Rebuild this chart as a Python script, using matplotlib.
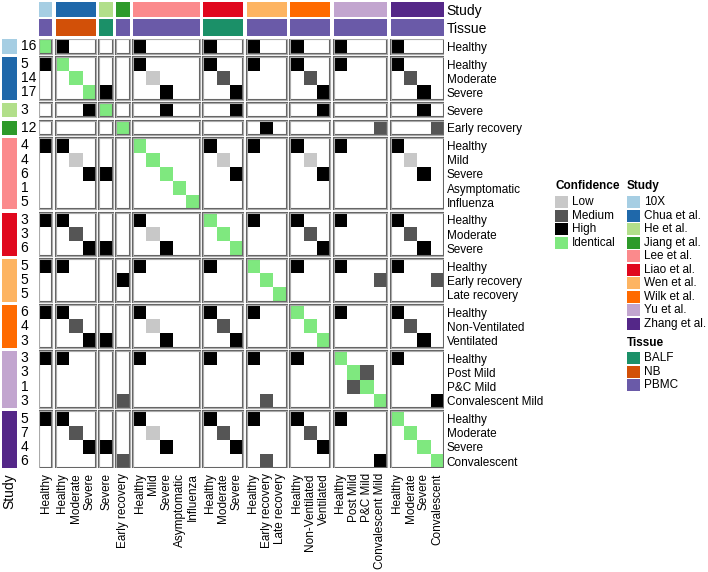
import numpy as np
import matplotlib
matplotlib.use("Agg")
import matplotlib.pyplot as plt
from matplotlib.patches import Rectangle
from matplotlib.colors import ListedColormap, BoundaryNorm
from matplotlib import transforms

plt.rcParams['font.family'] = ['Liberation Sans', 'DejaVu Sans']

# ---------------- data ----------------
studies = ["10X", "Chua et al.", "He et al.", "Jiang et al.", "Lee et al.",
           "Liao et al.", "Wen et al.", "Wilk et al.", "Yu et al.", "Zhang et al."]
study_colors = ["#a6cee3", "#1f68aa", "#b2df8a", "#2e9a2a", "#fb8a8c",
                "#e0081e", "#fdb462", "#ff6a00", "#c2a5cf", "#542788"]
study_tissue = ["PBMC", "NB", "BALF", "PBMC", "PBMC", "BALF", "PBMC", "PBMC", "PBMC", "PBMC"]
tissue_names = ["BALF", "NB", "PBMC"]
tissue_colors = ["#1b9068", "#d25008", "#6a5aa8"]

conditions = [
    ["Healthy"],
    ["Healthy", "Moderate", "Severe"],
    ["Severe"],
    ["Early recovery"],
    ["Healthy", "Mild", "Severe", "Asymptomatic", "Influenza"],
    ["Healthy", "Moderate", "Severe"],
    ["Healthy", "Early recovery", "Late recovery"],
    ["Healthy", "Non-Ventilated", "Ventilated"],
    ["Healthy", "Post Mild", "P&C Mild", "Convalescent Mild"],
    ["Healthy", "Moderate", "Severe", "Convalescent"],
]
sample_counts = [[16], [5, 14, 17], [3], [12], [4, 4, 6, 1, 5], [3, 3, 6],
                 [5, 5, 5], [6, 4, 3], [3, 3, 1, 3], [5, 7, 4, 6]]

confidence_levels = ["Low", "Medium", "High", "Identical"]
confidence_colors = ["#c8c8c8", "#555555", "#000000", "#7fe87f"]

# match matrix: '.' none, L low, M medium, H high, I identical (groups separated by spaces)
match_rows = [
    "I H.. . . H.... H.. H.. H.. H... H...",
    "H I.. . . H.... H.. H.. H.. H... H...",
    ". .I. . . .L... .M. ... .M. .... .M..",
    ". ..I H . ..H.. ..H ... ..H .... ..H.",
    ". ..H I . ..H.. ..H ... ..H .... ..H.",
    ". ... . I ..... ... .H. ... ...M ...M",
    "H H.. . . I.... H.. H.. H.. H... H...",
    ". .L. . . .I... .L. ... .L. .... .L..",
    ". ..H H . ..I.. ..H ... ..H .... ..H.",
    ". ... . . ...I. ... ... ... .... ....",
    ". ... . . ....I ... ... ... .... ....",
    "H H.. . . H.... I.. H.. H.. H... H...",
    ". .M. . . .L... .I. ... .M. .... .M..",
    ". ..H H . ..H.. ..I ... ..H .... ..H.",
    "H H.. . . H.... H.. I.. H.. H... H...",
    ". ... . H ..... ... .I. ... ...M ...M",
    ". ... . . ..... ... ..I ... .... ....",
    "H H.. . . H.... H.. H.. I.. H... H...",
    ". .M. . . .L... .M. ... .I. .... .M..",
    ". ..H H . ..H.. ..H ... ..I .... ..H.",
    "H H.. . . H.... H.. H.. H.. I... H...",
    ". ... . . ..... ... ... ... .IM. ....",
    ". ... . . ..... ... ... ... .MI. ....",
    ". ... . M ..... ... .M. ... ...I ...H",
    "H H.. . . H.... H.. H.. H.. H... I...",
    ". .M. . . .L... .M. ... .M. .... .I..",
    ". ..H H . ..H.. ..H ... ..H .... ..I.",
    ". ... . M ..... ... .M. ... ...H ...I",
]

# ---------------- build ----------------
code = {'.': 0, 'L': 1, 'M': 2, 'H': 3, 'I': 4}
M = np.array([[code[c] for c in r.replace(" ", "")] for r in match_rows])
sizes = [len(c) for c in conditions]
ng = len(sizes)
grp = np.repeat(np.arange(ng), sizes)
n = grp.size
GX, GY = 0.26, 0.24
xs = np.arange(n) + grp * GX
ys = np.arange(n) + grp * GY
starts = np.cumsum([0] + sizes[:-1])
flat_cond = [c for cs in conditions for c in cs]
flat_counts = [c for cs in sample_counts for c in cs]

W, H = 708, 572
fig = plt.figure(figsize=(W / 100, H / 100), dpi=100)

L, R, T, B = 39, 444, 39.3, 468.3
ax = fig.add_axes([L / W, 1 - B / H, (R - L) / W, (B - T) / H])
XMAX = n + (ng - 1) * GX
YMAX = n + (ng - 1) * GY
ax.set_xlim(0, XMAX)
ax.set_ylim(YMAX, 0)
for s in ax.spines.values():
    s.set_visible(False)

cmap = ListedColormap(["white"] + confidence_colors)
norm = BoundaryNorm(np.arange(-0.5, 5.5, 1), cmap.N)

for gi in range(ng):
    r0, r1 = starts[gi], starts[gi] + sizes[gi]
    for gj in range(ng):
        c0, c1 = starts[gj], starts[gj] + sizes[gj]
        xe = xs[c0] + np.arange(c1 - c0 + 1)
        ye = ys[r0] + np.arange(r1 - r0 + 1)
        ax.pcolormesh(xe, ye, M[r0:r1, c0:c1], cmap=cmap, norm=norm)
        ax.add_patch(Rectangle((xs[c0], ys[r0]), c1 - c0, r1 - r0, fill=False,
                               ec="#666666", lw=1.5, zorder=3))
        ax.add_patch(Rectangle((xs[c0], ys[r0]), c1 - c0, r1 - r0, fill=False,
                               ec="#d4d4d4", lw=0.45, zorder=4))

ax.set_xticks(xs + 0.5)
ax.set_xticklabels(flat_cond, rotation=90, fontsize=8.5)
ax.tick_params(axis='x', length=0, pad=3.5)
ax.yaxis.tick_right()
ax.set_yticks(ys + 0.5)
ax.set_yticklabels(flat_cond, fontsize=8.5)
ax.tick_params(axis='y', length=0, pad=2)

num_tr = transforms.offset_copy(ax.transData, fig=fig, x=-18.5, y=0, units='dots')
for k in range(n):
    ax.text(0, ys[k] + 0.5, str(flat_counts[k]), transform=num_tr, ha='left',
            va='center', fontsize=10, clip_on=False)

# top annotations
def top_axes(y0, y1):
    a = fig.add_axes([L / W, 1 - y1 / H, (R - L) / W, (y1 - y0) / H])
    a.set_xlim(0, XMAX)
    a.set_ylim(0, 1)
    a.set_xticks([])
    for s in a.spines.values():
        s.set_visible(False)
    a.yaxis.tick_right()
    a.set_yticks([0.5])
    a.tick_params(axis='y', length=0, pad=2, labelsize=10)
    return a

axS = top_axes(1.7, 16.7)
axS.bar(xs[starts], 1, width=sizes, align='edge', color=study_colors)
axS.set_yticklabels(["Study"])
axT = top_axes(19, 36)
axT.bar(xs[starts], 1, width=sizes, align='edge',
        color=[tissue_colors[tissue_names.index(t)] for t in study_tissue])
axT.set_yticklabels(["Tissue"])

# left annotation
axL = fig.add_axes([1.7 / W, 1 - B / H, 15.6 / W, (B - T) / H])
axL.set_ylim(YMAX, 0)
axL.set_xlim(0, 1)
axL.barh(ys[starts], 1, height=sizes, align='edge', color=study_colors)
axL.set_yticks([])
for s in axL.spines.values():
    s.set_visible(False)
axL.set_xticks([0.5])
axL.set_xticklabels(["Study"], rotation=90, fontsize=10)
axL.tick_params(axis='x', length=0, pad=3.5)

# legends
lg = fig.add_axes([0, 0, 1, 1])
lg.set_xlim(0, W)
lg.set_ylim(H, 0)
lg.axis('off')

def legend(x, ytitle, y0, title, labels, colors):
    lg.text(x, ytitle, title, fontsize=8.5, fontweight='bold', va='center', ha='left')
    for k, (lab, col) in enumerate(zip(labels, colors)):
        yc = y0 + 13.5 * k
        lg.add_patch(Rectangle((x, yc - 6), 12.5, 12, color=col, lw=0))
        lg.text(x + 17, yc, lab, fontsize=8.5, va='center', ha='left')

legend(555, 186, 202.3, "Confidence", confidence_levels, confidence_colors)
legend(627, 186, 202.3, "Study", studies, study_colors)
legend(627, 342.7, 358.3, "Tissue", tissue_names, tissue_colors)

fig.savefig("out.png", dpi=100)
